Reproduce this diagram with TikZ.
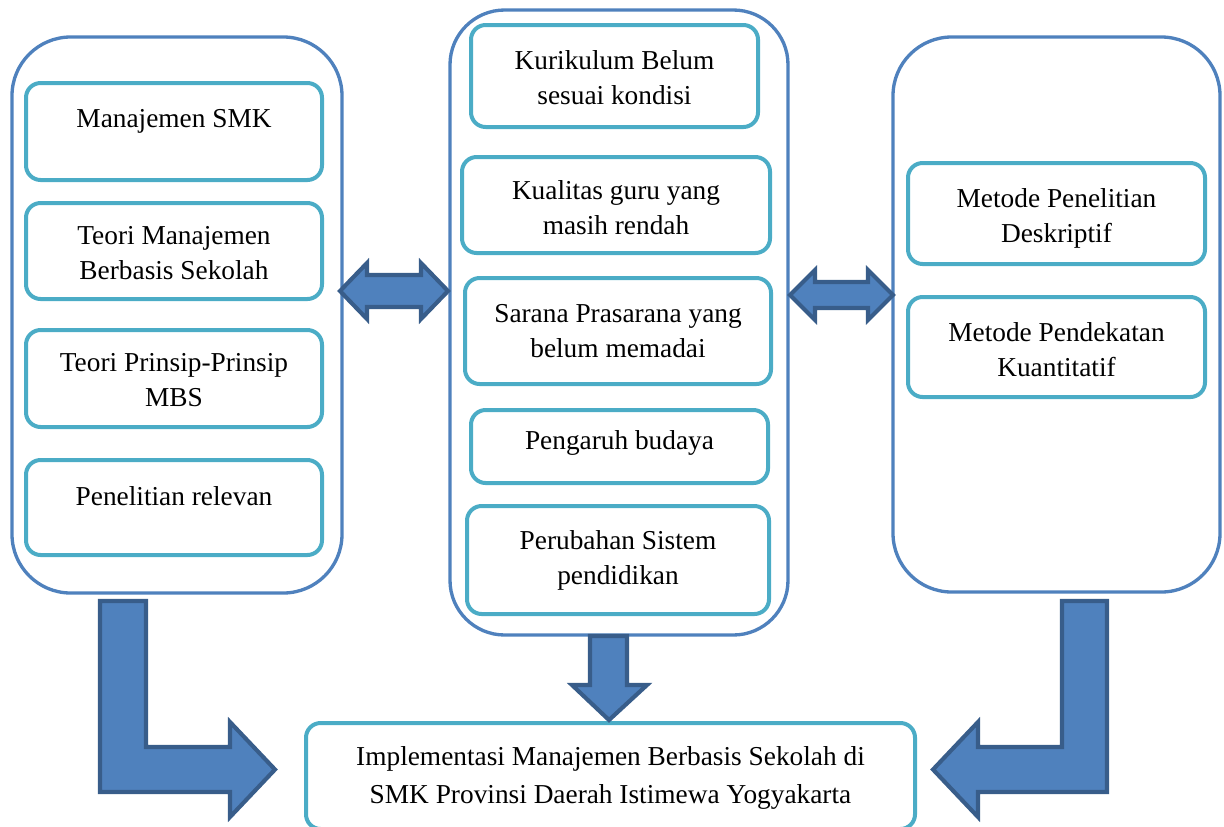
\documentclass[tikz,border=0pt]{standalone}
\usepackage{fontspec}
\setmainfont{Liberation Serif}
\usetikzlibrary{fit}
\definecolor{outerblue}{HTML}{4F81BD}
\definecolor{innerteal}{HTML}{4BACC6}
\definecolor{arrowfill}{HTML}{4F81BD}
\definecolor{arrowedge}{HTML}{385D8A}
\tikzset{
  container/.style={draw=outerblue, line width=2.5pt, rounded corners=44pt, inner sep=0pt},
  inbox/.style={draw=innerteal, line width=3pt, rounded corners=11pt, inner sep=0pt},
  txt/.style={align=center, inner sep=0pt, font=\fontsize{20.5}{26.25}\selectfont},
  blockarrow/.style={fill=arrowfill, draw=arrowedge, line width=3.1pt, line join=miter}
}
\begin{document}
\begin{tikzpicture}[x=0.75pt, y=-0.75pt]
\useasboundingbox (0,0) rectangle (1224,826);
% containers
\node[container, fit={(12,37)(342,593)}] (L) {};
\node[container, rounded corners=41pt, fit={(450,10)(788,635)}] (M) {};
\node[container, fit={(893,37)(1220,592)}] (R) {};
% left column
\node[inbox, fit={(26,83)(322,180)}] (l1) {};
\node[txt] at (174,121) {Manajemen SMK};
\node[inbox, fit={(26,203)(322,299)}] (l2) {};
\node[txt] at ([yshift=-1.5pt]l2.center) {Teori Manajemen\\Berbasis Sekolah};
\node[inbox, fit={(26,330)(322,427)}] (l3) {};
\node[txt] at ([yshift=-1pt]l3.center) {Teori Prinsip-Prinsip\\MBS};
\node[inbox, fit={(26,460)(322,555)}] (l4) {};
\node[txt] at (174,496) {Penelitian relevan};
% middle column
\node[inbox, fit={(471,25)(758,127)}] (m1) {};
\node[txt] at ([yshift=-1pt]m1.center) {Kurikulum Belum\\sesuai kondisi};
\node[inbox, fit={(462,157)(770,253)}] (m2) {};
\node[txt] at ([yshift=-2pt]m2.center) {Kualitas guru yang\\masih rendah};
\node[inbox, fit={(465,278)(771,384)}] (m3) {};
\node[txt] at (m3.center) {Sarana Prasarana yang\\belum memadai};
\node[inbox, fit={(471,410)(768,483)}] (m4) {};
\node[txt] at (619.5,443) {Pengaruh budaya};
\node[inbox, fit={(467,506)(769,614)}] (m5) {};
\node[txt] at (m5.center) {Perubahan Sistem\\pendidikan};
% right column
\node[inbox, fit={(908,163)(1205,264)}] (r1) {};
\node[txt] at ([yshift=-3.5pt]r1.center) {Metode Penelitian\\Deskriptif};
\node[inbox, fit={(908,297)(1205,397)}] (r2) {};
\node[txt] at ([yshift=-2pt]r2.center) {Metode Pendekatan\\Kuantitatif};
% bottom box
\node[inbox, fit={(306,723)(915,829)}] (B) {};
\node[txt, font=\fontsize{20.5}{28}\selectfont] at (610.5,778) {Implementasi Manajemen Berbasis Sekolah di\\SMK Provinsi Daerah Istimewa Yogyakarta};
% double arrows
\draw[blockarrow] (340,291) -- (367,263) -- (367,275) -- (421,275) -- (421,263) -- (448,291)
  -- (421,319) -- (421,307) -- (367,307) -- (367,319) -- cycle;
\draw[blockarrow] (790,295) -- (815,270) -- (815,282) -- (868,282) -- (868,270) -- (893,295)
  -- (868,320) -- (868,308) -- (815,308) -- (815,320) -- cycle;
% down arrow
\draw[blockarrow] (590,636) -- (627,636) -- (627,685) -- (647,685) -- (609,720) -- (572,685) -- (590,685) -- cycle;
% bent arrows
\draw[blockarrow] (100,601) -- (146,601) -- (146,747) -- (230,747) -- (230,722) -- (275,769.5)
  -- (230,817) -- (230,792) -- (100,792) -- cycle;
\draw[blockarrow] (1062,601) -- (1107,601) -- (1107,792) -- (978,792) -- (978,817) -- (933,769.5)
  -- (978,722) -- (978,747) -- (1062,747) -- cycle;
\end{tikzpicture}
\end{document}
